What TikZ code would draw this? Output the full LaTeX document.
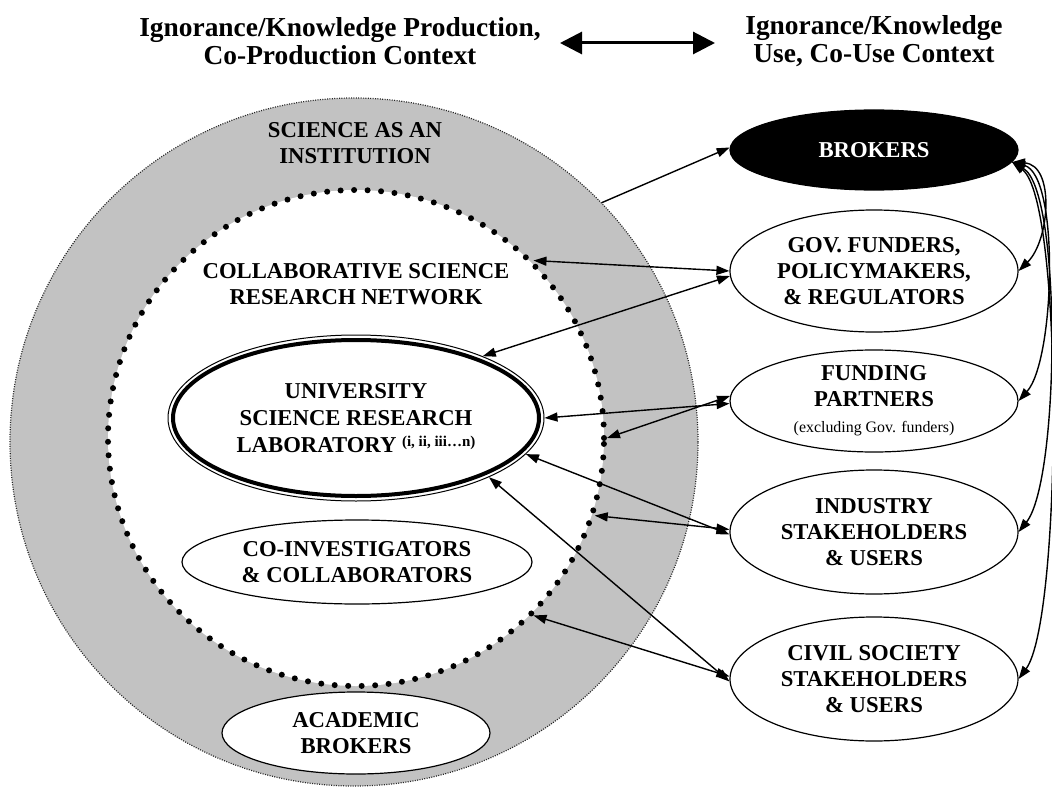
\documentclass[tikz,border=0pt]{standalone}
\usepackage{fontspec}
\setmainfont{Liberation Serif}
\usetikzlibrary{shapes.geometric,arrows.meta}
\begin{document}
\begin{tikzpicture}[x=1pt,y=-1pt,
  ttl/.style={font=\bfseries\fontsize{27.4}{28.5}\selectfont, align=center, inner sep=0pt},
  lbl/.style={font=\bfseries\fontsize{22.7}{26}\selectfont, align=center, inner sep=0pt},
  oval/.style={ellipse, draw, line width=1.2pt, fill=white, inner sep=0pt, align=center,
    font=\bfseries\fontsize{22.7}{26}\selectfont},
  conn/.style={line width=1.4pt, {Triangle[length=13pt,width=9pt]}-{Triangle[length=13pt,width=9pt]}},
  conn1/.style={line width=1.4pt, -{Triangle[length=13pt,width=9pt]}}]
\useasboundingbox (0,0) rectangle (1052,789);
\fill[white] (0,0) rectangle (1052,789);

% titles
\node[ttl] (tl) at (340,41) {Ignorance/Knowledge Production,\\Co-Production Context};
\node[ttl] (tr) at (874,41) {Ignorance/Knowledge\\Use, Co-Use Context};
\coordinate (aL) at (560,43);
\coordinate (aR) at (715,43);
\draw[line width=3pt, {Triangle[length=22pt,width=22pt]}-{Triangle[length=22pt,width=22pt]}] (aL) -- (aR);

% institution circle
\node[circle, minimum size=688pt, inner sep=0pt, fill=black!24, draw=black!85,
  line width=1.2pt, dash pattern=on 1pt off 1.4pt] (inst) at (354,442) {};
\node[lbl] (instlbl) at (355,143) {SCIENCE AS AN\\INSTITUTION};

% network circle
\node[circle, minimum size=496pt, inner sep=0pt, fill=white, draw=black,
  line width=6pt, line cap=round, dash pattern=on 0pt off 13.5pt] (net) at (356,438) {};
\node[lbl] (netlbl) at (356,284) {COLLABORATIVE SCIENCE\\RESEARCH NETWORK};

% laboratory
\node[oval, minimum width=376pt, minimum height=166pt, line width=1pt, font=\bfseries\fontsize{22.7}{27}\selectfont] (lab) at (356,418)
  {UNIVERSITY\\SCIENCE RESEARCH\\LABORATORY {\fontsize{15}{15}\selectfont\raisebox{6pt}{(i, ii, iii…n)}}};
\draw[line width=4pt] (lab.center) ellipse [x radius=183pt, y radius=78pt];

\node[oval, minimum width=350pt, minimum height=84pt] (coinv) at (357,562) {CO-INVESTIGATORS\\\& COLLABORATORS};
\node[oval, minimum width=268pt, minimum height=82pt] (acad) at (356,733) {ACADEMIC\\BROKERS};

% right column
\node[oval, fill=black, text=white, minimum width=288pt, minimum height=80pt] (brok) at (874,150) {BROKERS};
\node[oval, minimum width=288pt, minimum height=122pt] (gov) at (874,271) {GOV. FUNDERS,\\POLICYMAKERS,\\\& REGULATORS};
\node[oval, minimum width=288pt, minimum height=102pt] (fund) at (874,401) {FUNDING\\PARTNERS\\{\mdseries\fontsize{15.9}{20}\selectfont (excluding Gov. funders)}};
\node[oval, minimum width=288pt, minimum height=124pt] (ind) at (874,532) {INDUSTRY\\STAKEHOLDERS\\\& USERS};
\node[oval, minimum width=288pt, minimum height=124pt] (civ) at (874,679) {CIVIL SOCIETY\\STAKEHOLDERS\\\& USERS};

% connectors
\draw[conn1] (inst.44.5) -- (brok.179);
\draw[conn] (net.45) -- (gov.180);
\draw[conn] (lab.26) -- (gov.182);
\draw[conn] (lab.east) -- (fund.181);
\draw[conn] (net.0) -- (fund.178);
\draw[conn] (lab.-12) -- (ind.181);
\draw[conn] (net.-18) -- (ind.179);
\draw[conn] (lab.-24) -- (civ.181);
\draw[conn] (net.-45) -- (civ.179);

\draw[conn] (brok.-5) .. controls (1055,165) and (1050,240) .. (gov.east);
\draw[conn] (brok.-5) .. controls (1060,175) and (1055,360) .. (fund.east);
\draw[conn] (brok.-5) .. controls (1062,190) and (1060,480) .. (ind.east);
\draw[conn] (brok.-5) .. controls (1064,200) and (1062,620) .. (civ.east);
\end{tikzpicture}
\end{document}
